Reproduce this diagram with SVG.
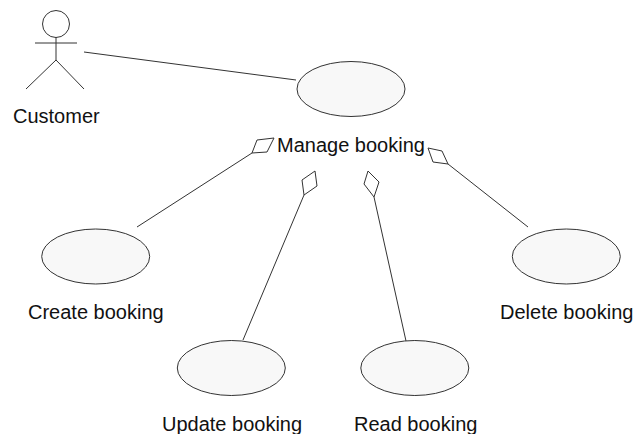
<svg xmlns="http://www.w3.org/2000/svg" width="634" height="434" viewBox="0 0 634 434">
<style>
.l{fill:none;stroke:#333;stroke-width:1}
.u{fill:#f8f8f8;stroke:#333;stroke-width:1}
.d{fill:#fff;stroke:#333;stroke-width:1;stroke-linejoin:miter}
text{font-family:"Liberation Sans",Arial,sans-serif;font-size:20px;fill:#111}
</style>
<rect width="634" height="434" fill="#fff"/>
<g id="connectors">
<line class="l" x1="84" y1="52" x2="296" y2="80"/>
<line class="l" x1="137" y1="227" x2="252" y2="153"/>
<polygon class="d" points="252,153 257,140 274,138 267,152"/>
<line class="l" x1="243" y1="340" x2="304" y2="195"/>
<polygon class="d" points="304,195 302,180 315,171 317,186"/>
<line class="l" x1="406" y1="341" x2="374" y2="197"/>
<polygon class="d" points="374,197 364,184 368,171 379,182"/>
<line class="l" x1="528" y1="227" x2="448" y2="164"/>
<polygon class="d" points="448,164 433,162 428,148 442,151"/>
</g>
<g id="customer">
<circle class="l" cx="56" cy="24" r="13.500"/>
<path class="l" d="M35 43H77M56 37V60L26 89M56 60L84 89"/>
<text x="13" y="123">Customer</text>
</g>
<g id="manage-booking">
<ellipse class="u" cx="351" cy="89" rx="54" ry="27.500"/>
<text x="277" y="152">Manage booking</text>
</g>
<g id="create-booking">
<ellipse class="u" cx="95.700" cy="256.500" rx="54" ry="27.500"/>
<text x="28" y="319">Create booking</text>
</g>
<g id="update-booking">
<ellipse class="u" cx="231.300" cy="368" rx="54" ry="27.500"/>
<text x="162" y="431">Update booking</text>
</g>
<g id="read-booking">
<ellipse class="u" cx="414.800" cy="368" rx="54" ry="27.500"/>
<text x="354" y="431">Read booking</text>
</g>
<g id="delete-booking">
<ellipse class="u" cx="566.300" cy="256.500" rx="54" ry="27.500"/>
<text x="500" y="319">Delete booking</text>
</g>
</svg>
